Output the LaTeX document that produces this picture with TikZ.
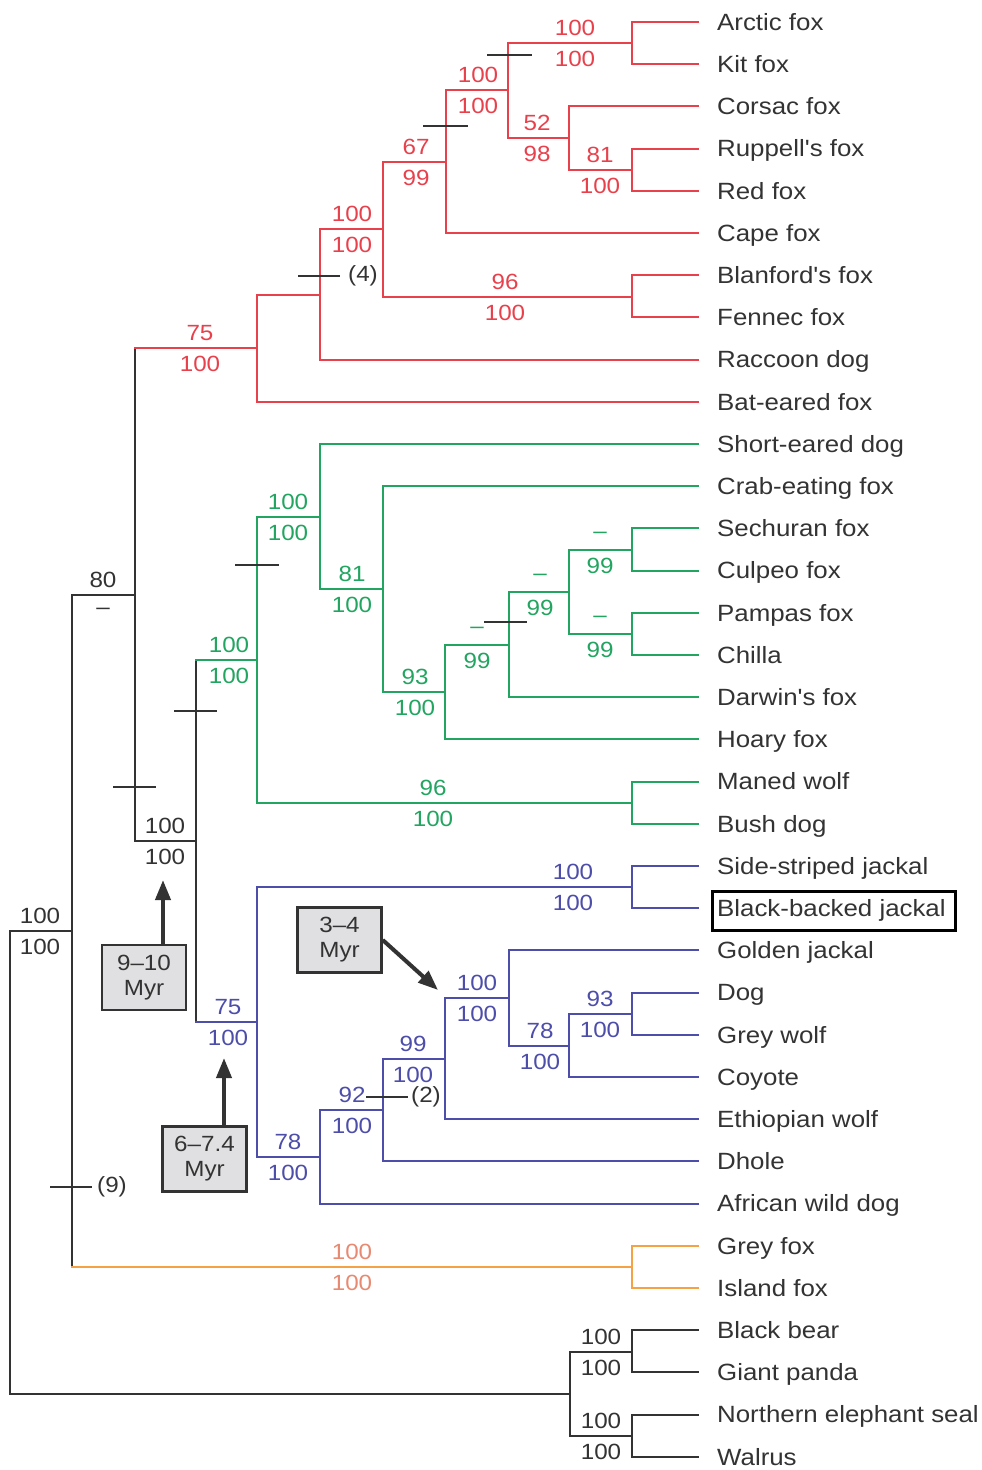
\documentclass[tikz,border=0pt]{standalone}
\usepackage{fontspec}
\setmainfont{Liberation Sans}[FakeStretch=1.1,Ligatures=TeXOff]
\usetikzlibrary{arrows.meta}
\definecolor{cred}{HTML}{E8414C}
\definecolor{cgreen}{HTML}{22A560}
\definecolor{cblue}{HTML}{4D4DAA}
\definecolor{corange}{HTML}{F5A246}
\definecolor{corangetxt}{HTML}{E88A72}
\definecolor{cdark}{HTML}{333333}
\definecolor{ctext}{HTML}{333333}
\definecolor{cbox}{HTML}{E0E0E2}
\newcommand\brr[4]{\draw[branch,#3] (#1) -- (#1 |- #2); \draw[branch,#4] (#1 |- #2) -- (#2);}
\newcommand\bsl[6]{\node[bsv,text=#6] (#1a) at (#2,{#3-15}) {#4}; \node[bsv,text=#6] (#1b) at (#2,{#3+16}) {#5};}
\begin{document}
\begin{tikzpicture}[x=1pt,y=-1pt,
  leaf/.style={anchor=base west, inner sep=0pt, text=ctext, font=\fontsize{23.5}{26}\selectfont},
  branch/.style={line width=2pt, line cap=rect},
  bsv/.style={inner sep=0pt, font=\fontsize{22}{24}\selectfont},
  tick/.style={draw=ctext, line width=2.6pt},
  tlabel/.style={anchor=west, inner sep=0pt, text=ctext, font=\fontsize{22}{24}\selectfont},
  agebox/.style={draw=cdark, fill=cbox, line width=2.5pt, align=center, minimum width=84pt, minimum height=65pt, inner sep=0pt, text=ctext, font=\fontsize{22}{25}\selectfont},
  agearrow/.style={-{Triangle[length=20pt,width=15pt]}, line width=4pt, draw=cdark, fill=cdark}]
\useasboundingbox (0,0) rectangle (982,1470);
\fill[white] (0,0) rectangle (982,1470);
% leaves
\foreach \i/\t in {1/Arctic fox,2/Kit fox,3/Corsac fox,4/Ruppell's fox,5/Red fox,6/Cape fox,7/Blanford's fox,8/Fennec fox,9/Raccoon dog,10/Bat-eared fox,11/Short-eared dog,12/Crab-eating fox,13/Sechuran fox,14/Culpeo fox,15/Pampas fox,16/Chilla,17/Darwin's fox,18/Hoary fox,19/Maned wolf,20/Bush dog,21/Side-striped jackal,22/Black-backed jackal,23/Golden jackal,24/Dog,25/Grey wolf,26/Coyote,27/Ethiopian wolf,28/Dhole,29/African wild dog,30/Grey fox,31/Island fox,32/Black bear,33/Giant panda,34/Northern elephant seal,35/Walrus}{
  \pgfmathsetmacro\yy{22+42.2*(\i-1)}
  \coordinate (t\i) at (698,\yy);
  \node[leaf] (l\i) at (717,\yy+8.3) {\t};
}
\node[draw=black, line width=3pt, inner sep=0pt, minimum width=243pt, minimum height=39pt, anchor=north west] (bbjbox) at (711,890) {};
% internal nodes
\coordinate (fAK) at (632,43);
\coordinate (nA) at (508,90);
\coordinate (nCR) at (569,138);
\coordinate (fRR) at (632,170);
\coordinate (nB) at (446,162);
\coordinate (fBF) at (632,297);
\coordinate (nC) at (383,229);
\coordinate (nD) at (320,295);
\coordinate (nE) at (257,348);
\coordinate (fSC) at (632,550);
\coordinate (fPC) at (632,634);
\coordinate (nG5) at (569,592);
\coordinate (nG4) at (509,645);
\coordinate (nG3) at (445,692);
\coordinate (nG2) at (383,589);
\coordinate (nG1) at (320,517);
\coordinate (fMB) at (632,803);
\coordinate (nG0) at (257,660);
\coordinate (fSB) at (632,887);
\coordinate (fDW) at (632,1014);
\coordinate (nB6) at (569,1046);
\coordinate (nB5) at (509,998);
\coordinate (nB4) at (445,1059);
\coordinate (nB3) at (383,1110);
\coordinate (nB2) at (320,1157);
\coordinate (nB1) at (257,1022);
\coordinate (nK2) at (196,841);
\coordinate (nK1) at (135,595);
\coordinate (fGI) at (632,1267);
\coordinate (nK3) at (72,931);
\coordinate (fBP) at (632,1352);
\coordinate (fSW) at (632,1436);
\coordinate (nO) at (570,1394);
\coordinate (root) at (10,1162);
% branches
\foreach \p/\c in {fAK/t1,fAK/t2,fRR/t4,fRR/t5,nCR/t3,nCR/fRR,nA/fAK,nA/nCR,nB/nA,nB/t6,fBF/t7,fBF/t8,nC/nB,nC/fBF,nD/nC,nD/t9,nE/nD,nE/t10}{\brr{\p}{\c}{cred}{cred}}
\foreach \p/\c in {fSC/t13,fSC/t14,fPC/t15,fPC/t16,nG5/fSC,nG5/fPC,nG4/nG5,nG4/t17,nG3/nG4,nG3/t18,nG2/t12,nG2/nG3,nG1/t11,nG1/nG2,fMB/t19,fMB/t20,nG0/nG1,nG0/fMB}{\brr{\p}{\c}{cgreen}{cgreen}}
\foreach \p/\c in {fSB/t21,fSB/t22,fDW/t24,fDW/t25,nB6/fDW,nB6/t26,nB5/t23,nB5/nB6,nB4/nB5,nB4/t27,nB3/nB4,nB3/t28,nB2/nB3,nB2/t29,nB1/fSB,nB1/nB2}{\brr{\p}{\c}{cblue}{cblue}}
\foreach \p/\c in {fGI/t30,fGI/t31}{\brr{\p}{\c}{corange}{corange}}
\foreach \p/\c in {fBP/t32,fBP/t33,fSW/t34,fSW/t35,nO/fBP,nO/fSW,root/nK3,root/nO,nK3/nK1,nK1/nK2}{\brr{\p}{\c}{cdark}{cdark}}
\brr{nK2}{nG0}{cdark}{cgreen}
\brr{nK2}{nB1}{cdark}{cblue}
\brr{nK1}{nE}{cdark}{cred}
\brr{nK3}{fGI}{cdark}{corange}
% support values
\bsl{sE}{200}{348}{75}{100}{cred}
\bsl{sC}{352}{229}{100}{100}{cred}
\bsl{sB}{416}{162}{67}{99}{cred}
\bsl{sBF}{505}{297}{96}{100}{cred}
\bsl{sA}{478}{90}{100}{100}{cred}
\bsl{sAK}{575}{43}{100}{100}{cred}
\bsl{sCR}{537}{138}{52}{98}{cred}
\bsl{sRR}{600}{170}{81}{100}{cred}
\bsl{sG0}{229}{660}{100}{100}{cgreen}
\bsl{sG1}{288}{517}{100}{100}{cgreen}
\bsl{sG2}{352}{589}{81}{100}{cgreen}
\bsl{sG3}{415}{692}{93}{100}{cgreen}
\bsl{sG4}{477}{645}{–}{99}{cgreen}
\bsl{sG5}{540}{592}{–}{99}{cgreen}
\bsl{sSC}{600}{550}{–}{99}{cgreen}
\bsl{sPC}{600}{634}{–}{99}{cgreen}
\bsl{sMB}{433}{803}{96}{100}{cgreen}
\bsl{sB1}{228}{1022}{75}{100}{cblue}
\bsl{sSB}{573}{887}{100}{100}{cblue}
\bsl{sB2}{288}{1157}{78}{100}{cblue}
\bsl{sB3}{352}{1110}{92}{100}{cblue}
\bsl{sB4}{413}{1059}{99}{100}{cblue}
\bsl{sB5}{477}{998}{100}{100}{cblue}
\bsl{sB6}{540}{1046}{78}{100}{cblue}
\bsl{sDW}{600}{1014}{93}{100}{cblue}
\bsl{sK1}{103}{595}{80}{–}{ctext}
\bsl{sK2}{165}{841}{100}{100}{ctext}
\bsl{sK3}{40}{931}{100}{100}{ctext}
\bsl{sGI}{352}{1267}{100}{100}{corangetxt}
\bsl{sBP}{601}{1352}{100}{100}{ctext}
\bsl{sSW}{601}{1436}{100}{100}{ctext}
% ticks
\draw[tick] (487,55) -- (532,55);
\draw[tick] (423,126) -- (468,126);
\draw[tick] (298,276) -- (340,276);
\node[tlabel] (c4) at (348,276) {(4)};
\draw[tick] (235,565) -- (279,565);
\draw[tick] (484,622) -- (527,622);
\draw[tick] (113,787) -- (156,787);
\draw[tick] (174,711) -- (217,711);
\draw[tick] (366,1097) -- (408,1097);
\node[tlabel] (c2) at (411,1097) {(2)};
\draw[tick] (50,1187) -- (92,1187);
\node[tlabel] (c9) at (97,1187) {(9)};
% age boxes
\node[agebox] (box910) at (144,977.5) {9–10\\Myr};
\node[agebox] (box67) at (204.5,1159) {6–7.4\\Myr};
\node[agebox] (box34) at (339.5,940) {3–4\\Myr};
\coordinate (a910) at (163,880);
\coordinate (a67) at (224,1058);
\coordinate (a34) at (438,990);
\draw[agearrow] (box910.north -| a910) -- (a910);
\draw[agearrow] (box67.north -| a67) -- (a67);
\draw[agearrow] (box34.east) -- (a34);
\end{tikzpicture}
\end{document}
